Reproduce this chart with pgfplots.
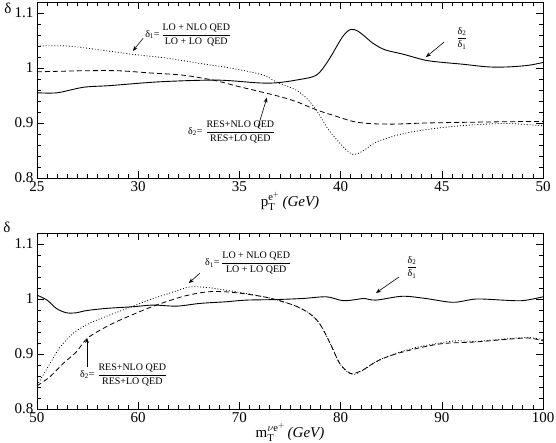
\documentclass[border=0pt]{standalone}
\usepackage{fontspec}
\setmainfont{Liberation Serif}
\setmathrm{Liberation Serif}
\usepackage{amsmath}
\usepackage{pgfplots}
\pgfplotsset{compat=1.18}
\usetikzlibrary{arrows.meta}

\tikzset{
  sld/.style={black, solid, line width=0.9pt, smooth},
  dsh/.style={black, line width=0.8pt, smooth, dash pattern=on 5pt off 3pt},
  dtt/.style={black, line width=0.8pt, smooth, dash pattern=on 0.9pt off 2pt},
  ann/.style={font=\fontsize{10}{12}\selectfont, inner sep=0pt},
  arr/.style={-{Stealth[length=5pt,width=4pt]}, line width=0.6pt},
}
\pgfplotsset{
  panel/.style={
    scale only axis,
    width=506pt, height=176pt,
    ymin=0.8, ymax=1.12,
    ytick={0.8,0.9,1,1.1},
    minor y tick num=4,
    minor x tick num=9,
    tick align=inside,
    major tick length=7pt,
    minor tick length=4pt,
    axis line style={line width=0.8pt},
    every tick/.style={black, line width=0.6pt},
    tick label style={font=\fontsize{15}{17}\selectfont},
    /pgf/number format/assume math mode=true,
    xlabel style={font=\fontsize{15}{17}\selectfont, yshift=6pt},
    no markers,
    clip mode=individual,
  },
}

\begin{document}
\begin{tikzpicture}
\useasboundingbox (-37pt,-264pt) rectangle (519pt,178pt);
% ---------- top panel: p_T ----------
\begin{axis}[panel, at={(0,0)}, anchor=south west,
  xmin=25, xmax=50, xtick={25,30,...,50},
  xlabel={$\mathrm{p}_{\mathrm{T}}^{\mathrm{e}^{+}}$\,\textit{(GeV)}}]
  % delta2/delta1
  \addplot[sld] coordinates {
    (25,0.955) (26,0.955) (27.3,0.965) (28.6,0.968) (31.1,0.975) (33.9,0.978)
    (35.9,0.973) (36.8,0.973) (37.8,0.978) (38.8,0.987) (39.4,1.014)
    (40.1,1.057) (40.5,1.070) (40.9,1.066) (41.6,1.045) (42.2,1.033)
    (43.1,1.025) (44.2,1.014) (45.1,1.010) (46.0,1.007) (47.3,1.002)
    (48.3,1.002) (49.3,1.005) (50,1.010)};
  % delta2
  \addplot[dsh] coordinates {
    (25,0.993) (27.3,0.995) (29,0.995) (30.6,0.991) (32.2,0.987) (33.7,0.978)
    (35,0.966) (36.8,0.950) (37.8,0.939) (38.8,0.924) (39.8,0.912)
    (40.6,0.903) (41.4,0.899) (42.6,0.898) (44.2,0.900) (45.8,0.901)
    (47.5,0.902) (50,0.903)};
  % delta1
  \addplot[dtt] coordinates {
    (25,1.040) (26.5,1.040) (28.1,1.033) (29.7,1.025) (31.4,1.018)
    (33.1,1.008) (34.7,0.999) (36.2,0.987) (36.8,0.975) (37.8,0.960)
    (38.4,0.942) (38.9,0.918) (39.4,0.888) (40.1,0.858) (40.6,0.843)
    (41.1,0.849) (41.7,0.864) (42.6,0.876) (43.7,0.885) (45.1,0.892)
    (46.7,0.897) (48.3,0.899) (50,0.895)};
  \node[ann, anchor=west] at (axis cs:30.34,1.060)
    {δ$_{\mathrm{1}}$=\,$\dfrac{\text{LO + NLO QED}}{\text{LO + LO\ \ QED}}$};
  \draw[arr] (axis cs:30.24,1.054) -- (axis cs:29.74,1.031);
  \node[ann, anchor=west] at (axis cs:32.46,0.884)
    {δ$_{\mathrm{2}}$=\;$\dfrac{\text{RES+NLO QED}}{\text{RES+LO QED}}$};
  \draw[arr] (axis cs:35.92,0.893) -- (axis cs:36.36,0.946);
  \node[ann] at (axis cs:46.0,1.054)
    {$\dfrac{\text{δ}_{\mathrm{2}}}{\text{δ}_{\mathrm{1}}}$};
  \draw[arr] (axis cs:45.11,1.047) -- (axis cs:44.22,1.020);
  \node[font=\fontsize{15}{17}\selectfont, inner sep=0pt, xshift=-29pt, yshift=-6pt] at (rel axis cs:0,1) {δ};
\end{axis}

% ---------- bottom panel: m_T ----------
\begin{axis}[panel, at={(0,-231pt)}, anchor=south west,
  xmin=50, xmax=100, xtick={50,60,...,100},
  xlabel={$\mathrm{m}_{\mathrm{T}}^{\nu\mathrm{e}^{+}}$\,\textit{(GeV)}}]
  % delta2/delta1
  \addplot[sld] coordinates {
    (50,1.007) (51.0,0.998) (51.9,0.983) (52.9,0.975) (53.9,0.975)
    (54.9,0.979) (56.9,0.983) (59.5,0.986) (61.5,0.989) (63.8,0.987)
    (66.1,0.992) (68.7,0.995) (70.7,0.998) (73.6,0.999) (76.3,1.001)
    (78.6,1.004) (80.2,0.997) (81.5,0.999) (82.3,1.001) (83.5,0.998)
    (86.1,1.005) (88.4,1.001) (91.1,0.994) (93.4,1.000) (96.0,0.998)
    (98.0,0.997) (100,1.004)};
  % delta2
  \addplot[dsh] coordinates {
    (50,0.842) (51.3,0.859) (52.6,0.883) (53.9,0.904) (55.0,0.929)
    (57.2,0.953) (59.5,0.972) (61.8,0.989) (64.5,1.005) (66.8,1.013)
    (68.7,1.013) (70.7,1.009) (72.7,1.003) (73.6,0.999) (75.6,0.987)
    (76.9,0.974) (77.9,0.956) (78.9,0.922) (79.9,0.883) (80.7,0.868)
    (81.2,0.864) (82.2,0.871) (83.5,0.886) (85.1,0.898) (87.5,0.910)
    (90.1,0.919) (93.4,0.922) (96.6,0.927) (98.6,0.929) (100,0.924)};
  % delta1
  \addplot[dtt] coordinates {
    (50,0.843) (51.3,0.883) (52.3,0.913) (53.6,0.938) (55.2,0.956)
    (57.2,0.971) (59.2,0.985) (61.2,0.999) (63.5,1.013) (65.1,1.022)
    (66.8,1.021) (68.7,1.016) (70.7,1.010) (72.7,1.003) (73.6,0.999)
    (75.6,0.987) (76.9,0.974) (77.9,0.956) (78.9,0.922) (79.9,0.883)
    (80.7,0.867) (81.3,0.863) (82.2,0.870) (83.5,0.886) (85.1,0.899)
    (87.5,0.912) (90.1,0.921) (91.5,0.924) (93.4,0.923) (96.6,0.928)
    (98.6,0.930) (100,0.926)};
  \node[ann, anchor=west] at (axis cs:66.6,1.065)
    {δ$_{\mathrm{1}}$=\,$\dfrac{\text{LO + NLO QED}}{\text{LO + LO QED}}$};
  \draw[arr] (axis cs:66.1,1.047) -- (axis cs:65.0,1.029);
  \node[ann, anchor=west] at (axis cs:54.25,0.862)
    {δ$_{\mathrm{2}}$=\;$\dfrac{\text{RES+NLO QED}}{\text{RES+LO QED}}$};
  \draw[arr] (axis cs:54.94,0.876) -- (axis cs:54.94,0.929);
  \node[ann] at (axis cs:87.06,1.058)
    {$\dfrac{\text{δ}_{\mathrm{2}}}{\text{δ}_{\mathrm{1}}}$};
  \draw[arr] (axis cs:85.77,1.040) -- (axis cs:83.5,1.011);
  \node[font=\fontsize{15}{17}\selectfont, inner sep=0pt, xshift=-30pt, yshift=6pt] at (rel axis cs:0,1) {δ};
\end{axis}
\end{tikzpicture}
\end{document}
